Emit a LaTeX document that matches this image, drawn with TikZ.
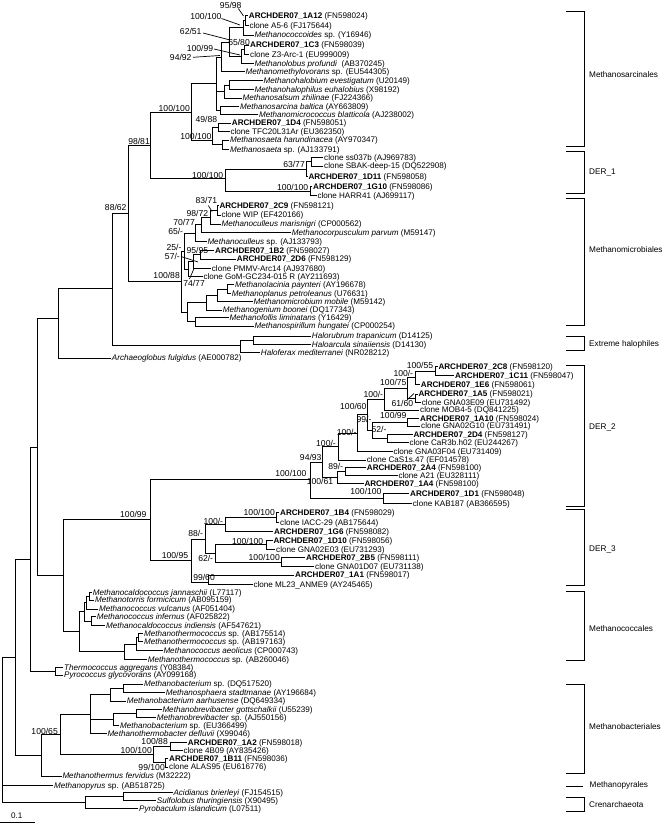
\documentclass[tikz,border=0pt]{standalone}
\usepackage{fontspec}
\setmainfont{Liberation Sans}
\newcommand{\lffont}{\fontsize{8.1}{9}\selectfont}
\newcommand{\bsfont}{\fontsize{8.6}{9}\selectfont}
\newcommand{\clfont}{\fontsize{8.2}{9}\selectfont}
\newcommand{\archd}[1]{\textbf{ARCHDER07\_#1}}
\begin{document}
\begin{tikzpicture}[x=1pt,y=-1pt,
  br/.style={line width=0.9pt, line cap=rect},
  pt/.style={line width=0.7pt},
  lf/.style={anchor=west, inner sep=1pt, text height=5.8pt, text depth=0pt, font=\lffont},
  bs/.style={anchor=east, inner sep=0pt, text height=6.2pt, text depth=0pt, font=\bsfont},
  cl/.style={anchor=west, inner sep=0pt, text height=5.9pt, text depth=0pt, font=\clfont}]
\useasboundingbox[fill=white] (0,0) rectangle (666,824);

% ---------- leaves ----------
\node[lf] (L1) at (247.7,15.7) {\archd{1A12} (FN598024)};
\node[lf] (L2) at (248.3,25.7) {clone A5-6 (FJ175644)};
\node[lf] (L3) at (253.3,35) {\textit{Methanococcoides} sp. (Y16946)};
\node[lf] (L4) at (249,45) {\archd{1C3} (FN598039)};
\node[lf] (L5) at (249,54.3) {clone Z3-Arc-1 (EU999009)};
\node[lf] (L6) at (253.3,63.3) {\textit{Methanolobus profundi}\ \ (AB370245)};
\node[lf] (L7) at (244.3,71.7) {\textit{Methanomethylovorans} sp. (EU544305)};
\node[lf] (L8) at (262.3,80.7) {\textit{Methanohalobium evestigatum} (U20149)};
\node[lf] (L9) at (253.3,89.3) {\textit{Methanohalophilus euhalobius} (X98192)};
\node[lf] (L10) at (241.3,98) {\textit{Methanosalsum zhilinae} (FJ224366)};
\node[lf] (L11) at (239,106.7) {\textit{Methanosarcina baltica} (AY663809)};
\node[lf] (L12) at (258,114.3) {\textit{Methanomicrococcus blatticola} (AJ238002)};
\node[lf] (L13) at (230.7,123) {\archd{1D4} (FN598051)};
\node[lf] (L14) at (229.3,131.5) {clone TFC20L31Ar (EU362350)};
\node[lf] (L15) at (229,140) {\textit{Methanosaeta harundinacea} (AY970347)};
\node[lf] (L16) at (229,149.3) {\textit{Methanosaeta} sp. (AJ133791)};
\node[lf] (L17) at (323,157.7) {clone ss037b (AJ969783)};
\node[lf] (L18) at (323,166) {clone SBAK-deep-15 (DQ522908)};
\node[lf] (L19) at (307.3,176.7) {\archd{1D11} (FN598058)};
\node[lf] (L20) at (312,186.3) {\archd{1G10} (FN598086)};
\node[lf] (L21) at (316.3,195.7) {clone HARR41 (AJ699117)};
\node[lf] (L22) at (218.3,205.3) {\archd{2C9} (FN598121)};
\node[lf] (L23) at (220.3,215) {clone WIP (EF420166)};
\node[lf] (L24) at (220.3,224) {\textit{Methanoculleus marisnigri} (CP000562)};
\node[lf] (L25) at (290.7,232.7) {\textit{Methanocorpusculum parvum} (M59147)};
\node[lf] (L26) at (206.3,241.3) {\textit{Methanoculleus} sp. (AJ133793)};
\node[lf] (L27) at (214,250.5) {\archd{1B2} (FN598027)};
\node[lf] (L28) at (235.7,259) {\archd{2D6} (FN598129)};
\node[lf] (L29) at (210.7,268.3) {clone PMMV-Arc14 (AJ937680)};
\node[lf] (L30) at (202.3,276.7) {clone GoM-GC234-015 R (AY211693)};
\node[lf] (L31) at (234,284.7) {\textit{Methanolacinia paynteri} (AY196678)};
\node[lf] (L32) at (230.7,293.3) {\textit{Methanoplanus petroleanus} (U76631)};
\node[lf] (L33) at (252.3,301.7) {\textit{Methanomicrobium mobile} (M59142)};
\node[lf] (L34) at (221.7,310) {\textit{Methanogenium boonei} (DQ177343)};
\node[lf] (L35) at (228.3,317.7) {\textit{Methanofollis liminatans} (Y16429)};
\node[lf] (L36) at (253.3,326) {\textit{Methanospirillum hungatei} (CP000254)};
\node[lf] (L37) at (310.7,336) {\textit{Halorubrum trapanicum} (D14125)};
\node[lf] (L38) at (310.7,344.7) {\textit{Haloarcula sinaiiensis} (D14130)};
\node[lf] (L39) at (259.7,352.3) {\textit{Haloferax mediterranei} (NR028212)};
\node[lf] (L40) at (110.7,358) {\textit{Archaeoglobus fulgidus} (AE000782)};
\node[lf] (L41) at (437.3,366.7) {\archd{2C8} (FN598120)};
\node[lf] (L42) at (454,375.3) {\archd{1C11} (FN598047)};
\node[lf] (L43) at (419.7,384.3) {\archd{1E6} (FN598061)};
\node[lf] (L44) at (417.3,394) {\archd{1A5} (FN598021)};
\node[lf] (L45) at (420.7,402.3) {clone GNA03E09 (EU731492)};
\node[lf] (L46) at (419,410) {clone MOB4-5 (DQ841225)};
\node[lf] (L47) at (419,418.3) {\archd{1A10} (FN598024)};
\node[lf] (L48) at (420,426) {clone GNA02G10 (EU731491)};
\node[lf] (L49) at (412.3,434.3) {\archd{2D4} (FN598127)};
\node[lf] (L50) at (408.3,442.3) {clone CaR3b.h02 (EU244267)};
\node[lf] (L51) at (392.3,451.7) {clone GNA03F04 (EU731409)};
\node[lf] (L52) at (365.7,460) {clone CaS1s.47 (EF014578)};
\node[lf] (L53) at (365.7,467.3) {\archd{2A4} (FN598100)};
\node[lf] (L54) at (397.3,475.7) {clone A21 (EU328111)};
\node[lf] (L55) at (363.3,483.7) {\archd{1A4} (FN598100)};
\node[lf] (L56) at (409,493.7) {\archd{1D1} (FN598048)};
\node[lf] (L57) at (411.7,503.3) {clone KAB187 (AB366595)};
\node[lf] (L58) at (279,512.7) {\archd{1B4} (FN598029)};
\node[lf] (L59) at (279,522.3) {clone IACC-29 (AB175644)};
\node[lf] (L60) at (273,531.7) {\archd{1G6} (FN598082)};
\node[lf] (L61) at (272.3,540.3) {\archd{1D10} (FN598056)};
\node[lf] (L62) at (275,549.3) {clone GNA02E03 (EU731293)};
\node[lf] (L63) at (305,557.7) {\archd{2B5} (FN598111)};
\node[lf] (L64) at (314,566.7) {clone GNA01D07 (EU731138)};
\node[lf] (L65) at (294,575) {\archd{1A1} (FN598017)};
\node[lf] (L66) at (252.3,584.3) {clone ML23\_ANME9 (AY245465)};
\node[lf] (L67) at (91.7,592.3) {\textit{Methanocaldococcus jannaschii} (L77117)};
\node[lf] (L68) at (94,600) {\textit{Methanotorris formicicum} (AB095159)};
\node[lf] (L69) at (98,609) {\textit{Methanococcus vulcanus} (AF051404)};
\node[lf] (L70) at (95.7,616.7) {\textit{Methanococcus infernus} (AF025822)};
\node[lf] (L71) at (105,625.7) {\textit{Methanocaldococcus indiensis} (AF547621)};
\node[lf] (L72) at (143,633.3) {\textit{Methanothermococcus} sp. (AB175514)};
\node[lf] (L73) at (143,641.7) {\textit{Methanothermococcus} sp. (AB197163)};
\node[lf] (L74) at (162.3,650.7) {\textit{Methanococcus aeolicus} (CP000743)};
\node[lf] (L75) at (146.7,659.3) {\textit{Methanothermococcus} sp. (AB260046)};
\node[lf] (L76) at (63,667.3) {\textit{Thermococcus aggregans} (Y08384)};
\node[lf] (L77) at (63,675) {\textit{Pyrococcus glycovorans} (AY099168)};
\node[lf] (L78) at (143,684) {\textit{Methanobacterium} sp. (DQ517520)};
\node[lf] (L79) at (164.7,692.7) {\textit{Methanosphaera stadtmanae} (AY196684)};
\node[lf] (L80) at (125.7,701) {\textit{Methanobacterium aarhusense} (DQ649334)};
\node[lf] (L81) at (161.3,709.3) {\textit{Methanobrevibacter gottschalkii} (U55239)};
\node[lf] (L82) at (155.7,717.3) {\textit{Methanobrevibacter} sp. (AJ550156)};
\node[lf] (L83) at (119,725.3) {\textit{Methanobacterium} sp. (EU366499)};
\node[lf] (L84) at (106.3,733.3) {\textit{Methanothermobacter defluvii} (X99046)};
\node[lf] (L85) at (186.7,742.3) {\archd{1A2} (FN598018)};
\node[lf] (L86) at (182.3,750.7) {clone 4B09 (AY835426)};
\node[lf] (L87) at (168,758.7) {\archd{1B11} (FN598036)};
\node[lf] (L88) at (168,767) {clone ALAS95 (EU616776)};
\node[lf] (L89) at (61.3,776) {\textit{Methanothermus fervidus} (M32222)};
\node[lf] (L90) at (53,785.3) {\textit{Methanopyrus} sp. (AB518725)};
\node[lf] (L91) at (172.3,792.3) {\textit{Acidianus brierleyi} (FJ154515)};
\node[lf] (L92) at (155.7,800.7) {\textit{Sulfolobus thuringiensis} (X90495)};
\node[lf] (L93) at (138,808.7) {\textit{Pyrobaculum islandicum} (L07511)};

% ---------- internal nodes ----------
\coordinate (n1) at (245,20.7);   \coordinate (n2) at (243,27.9);
\coordinate (n3) at (244,49.7);   \coordinate (n4) at (241,56.5);
\coordinate (n5) at (229,42.2);   \coordinate (n6) at (221.7,57);
\coordinate (nA) at (229.3,85);   \coordinate (nB) at (224,91.5);
\coordinate (nC) at (220,110.5);  \coordinate (G1) at (216.7,83.8);
\coordinate (g21) at (218.3,127.3); \coordinate (g22) at (222.7,144.7);
\coordinate (G2) at (212.7,140);  \coordinate (G) at (191,112.3);
\coordinate (h1a) at (311.7,161.8); \coordinate (h1) at (306.7,169.3);
\coordinate (h2) at (310.7,191);  \coordinate (H) at (225,178.8);
\coordinate (F) at (150.7,145.5);
\coordinate (m1) at (217.3,210.2); \coordinate (m2) at (210.3,217.1);
\coordinate (m3) at (201.7,224.9); \coordinate (m4) at (195,233.1);
\coordinate (m5) at (200,254.8);  \coordinate (m6) at (193,261.5);
\coordinate (m8) at (188,269.1);  \coordinate (m14) at (184,251.1);
\coordinate (m9) at (227.3,289);  \coordinate (m10) at (217.3,295.3);
\coordinate (m11) at (206,302.7); \coordinate (m12) at (195,321.9);
\coordinate (m13) at (187.3,312.3); \coordinate (M) at (181.7,281);
\coordinate (E3) at (128.3,213.3);
\coordinate (ha) at (253.3,340.3); \coordinate (hb) at (240.7,345.5);
\coordinate (E2) at (112.7,288.3); \coordinate (E1) at (58.3,318.3);
\coordinate (a1) at (435,371);    \coordinate (a2) at (415,377.7);
\coordinate (a3) at (415.7,398.2); \coordinate (a5) at (407,388);
\coordinate (a6) at (384,399);    \coordinate (a7) at (407,422.2);
\coordinate (a9) at (387,438.3);  \coordinate (a10) at (372,430.2);
\coordinate (a8) at (367,414.6);  \coordinate (P2) at (357,433.2);
\coordinate (P1) at (338.3,446.6); \coordinate (d1) at (345.7,471.5);
\coordinate (d2) at (337.3,477.6); \coordinate (P) at (322.7,462.1);
\coordinate (q1) at (383.3,498.5); \coordinate (Q) at (310,479.5);
\coordinate (t1) at (276.7,517.5); \coordinate (t2) at (225,524.6);
\coordinate (t3) at (266.7,544.8); \coordinate (t4) at (281.7,562.2);
\coordinate (t5) at (215,553.5);  \coordinate (t6) at (205,539);
\coordinate (t7) at (208.3,582.3); \coordinate (T) at (191.7,560.3);
\coordinate (X) at (150,519.3);
\coordinate (c1) at (89.3,596.2); \coordinate (c2) at (86.7,602.6);
\coordinate (c3) at (91.7,621.2); \coordinate (c4) at (84,611.9);
\coordinate (c5) at (138.7,637.5); \coordinate (c6) at (136.7,644.1);
\coordinate (c7) at (124.3,651.7); \coordinate (c8) at (79.7,631.8);
\coordinate (D) at (63.3,575.5);  \coordinate (C) at (37.3,447);
\coordinate (th) at (55,671.2);   \coordinate (B) at (30.7,559);
\coordinate (b1) at (123,688.3);  \coordinate (b2) at (110,694.7);
\coordinate (b3) at (136.7,713.3); \coordinate (b4) at (113.3,719.3);
\coordinate (b6) at (90.7,714);   \coordinate (b7) at (170,746.5);
\coordinate (b8) at (165,762.8);  \coordinate (b9) at (153.3,754.7);
\coordinate (b10) at (60,734.5);  \coordinate (b11) at (41.7,755.2);
\coordinate (A) at (15,657);
\coordinate (cr1) at (123.3,796.5); \coordinate (cr2) at (85,802.6);
\coordinate (R) at (2,729.8);

% ---------- branches ----------
\foreach \c/\p in {L1.west/n1, L2.west/n1, n1/n2, L3.west/n2, L4.west/n3, L5.west/n3,
  n3/n4, L6.west/n4, n2/n5, n4/n5, n5/n6, L7.west/n6, L8.west/nA, L9.west/nA,
  nA/nB, L10.west/nB, L11.west/nC, L12.west/nC, n6/G1, nB/G1, nC/G1,
  L13.west/g21, L14.west/g21, L15.west/g22, L16.west/g22, g21/G2, g22/G2,
  G1/G, G2/G, L17.west/h1a, L18.west/h1a, h1a/h1, L19.west/h1, L20.west/h2,
  L21.west/h2, h1/H, h2/H, G/F, H/F,
  L22.west/m1, L23.west/m1, m1/m2, L24.west/m2, m2/m3, L25.west/m3, m3/m4,
  L26.west/m4, L27.west/m5, L28.west/m5, m5/m6, L29.west/m6, m6/m8, L30.west/m8,
  m4/m14, m8/m14, L31.west/m9, L32.west/m9, m9/m10, L33.west/m10, m10/m11,
  L34.west/m11, L35.west/m12, L36.west/m12, m11/m13, m12/m13, m14/M, m13/M,
  F/E3, M/E3, L37.west/ha, L38.west/ha, ha/hb, L39.west/hb, E3/E2, hb/E2,
  E2/E1, L40.west/E1}
  \draw[br] (\c) -| (\p);
\foreach \c/\p in {L41.west/a1, L42.west/a1, a1/a2, L43.west/a2, L44.west/a3,
  L45.west/a3, a2/a5, a3/a5, a5/a6, L46.west/a6, L47.west/a7, L48.west/a7,
  L49.west/a9, L50.west/a9, a7/a10, a9/a10, a6/a8, a10/a8, a8/P2, L51.west/P2,
  P2/P1, L52.west/P1, L53.west/d1, L54.west/d1, d1/d2, L55.west/d2, P1/P, d2/P,
  L56.west/q1, L57.west/q1, P/Q, q1/Q,
  L58.west/t1, L59.west/t1, t1/t2, L60.west/t2, L61.west/t3, L62.west/t3,
  L63.west/t4, L64.west/t4, t3/t5, t4/t5, t2/t6, t5/t6, L65.west/t7, L66.west/t7,
  t6/T, t7/T, Q/X, T/X,
  L67.west/c1, L68.west/c1, c1/c2, L69.west/c2, L70.west/c3, L71.west/c3,
  c2/c4, c3/c4, L72.west/c5, L73.west/c5, c5/c6, L74.west/c6, c6/c7,
  L75.west/c7, c4/c8, c7/c8, X/D, c8/D, E1/C, D/C, L76.west/th, L77.west/th,
  C/B, th/B,
  L78.west/b1, L79.west/b1, b1/b2, L80.west/b2, L81.west/b3, L82.west/b3,
  b3/b4, L83.west/b4, b2/b6, b4/b6, L84.west/b6, L85.west/b7, L86.west/b7,
  L87.west/b8, L88.west/b8, b7/b9, b8/b9, b6/b10, b9/b10, b10/b11, L89.west/b11,
  B/A, b11/A, L91.west/cr1, L92.west/cr1, cr1/cr2, L93.west/cr2,
  A/R, L90.west/R, cr2/R}
  \draw[br] (\c) -| (\p);

% ---------- support values ----------
\node[bs] (s1) at (241.7,5) {95/98};
\node[bs] (s2) at (221.7,16.7) {100/100};
\node[bs] (s3) at (201.7,31.7) {62/51};
\node[bs] (s4) at (250,42.7) {65/80};
\node[bs] (s5) at (213.3,48.3) {100/99};
\node[bs] (s6) at (191.7,57.3) {94/92};
\node[bs] (s7) at (190,108.3) {100/100};
\node[bs] (s8) at (217.3,119) {49/88};
\node[bs] (s9) at (211.7,136.7) {100/100};
\node[bs] (s10) at (150,141.7) {98/81};
\node[bs] (s11) at (305,164.3) {63/77};
\node[bs] (s12) at (223.3,175) {100/100};
\node[bs] (s13) at (308.3,187.7) {100/100};
\node[bs] (s14) at (217.3,200) {83/71};
\node[bs] (s15) at (126.7,207.3) {88/62};
\node[bs] (s16) at (208.3,213.3) {98/72};
\node[bs] (s17) at (195,222.3) {70/77};
\node[bs] (s18) at (183.3,231) {65/-};
\node[bs] (s19) at (181.7,247.7) {25/-};
\node[bs] (s20) at (208.3,250) {95/95};
\node[bs] (s21) at (180,256) {57/-};
\node[bs] (s22) at (180,275.7) {100/88};
\node[bs] (s23) at (205,283.3) {74/77};
\node[bs] (s24) at (433.3,365) {100/55};
\node[bs] (s25) at (413.3,373.3) {100/-};
\node[bs] (s26) at (406.7,382.3) {100/75};
\node[bs] (s27) at (383.3,394) {100/-};
\node[bs] (s28) at (413.3,403.3) {61/60};
\node[bs] (s29) at (366.7,406) {100/60};
\node[bs] (s30) at (406.7,415) {100/99};
\node[bs] (s31) at (371.7,419) {99/-};
\node[bs] (s32) at (386.7,429) {52/-};
\node[bs] (s33) at (356.7,432.3) {100/-};
\node[bs] (s34) at (336,443.3) {100/-};
\node[bs] (s35) at (321.7,457.7) {94/93};
\node[bs] (s36) at (343.3,466.7) {89/-};
\node[bs] (s37) at (306.7,473.3) {100/100};
\node[bs] (s38) at (333.3,481.7) {100/61};
\node[bs] (s39) at (381.7,491.7) {100/100};
\node[bs] (s40) at (275,512.7) {100/100};
\node[bs] (s41) at (146.7,514) {100/99};
\node[bs] (s42) at (223.3,521.7) {100/-};
\node[bs] (s43) at (203.3,533) {88/-};
\node[bs] (s44) at (263.3,541) {100/100};
\node[bs] (s45) at (188.3,555) {100/95};
\node[bs] (s46) at (280,557.7) {100/100};
\node[bs] (s47) at (213.3,558.5) {62/-};
\node[bs] (s48) at (215,577.3) {99/60};
\node[bs] (s49) at (58,731.7) {100/65};
\node[bs] (s50) at (168,741) {100/88};
\node[bs] (s51) at (152,750) {100/100};
\node[bs] (s52) at (165,767) {99/100};

% pointer lines from support values to their nodes
\coordinate (k1a) at (238.3,8.5);  \coordinate (k1b) at (243.5,16);
\coordinate (k2a) at (221.5,18.5); \coordinate (k2b) at (240,25);
\coordinate (k3a) at (203,33);     \coordinate (k3b) at (230,40);
\coordinate (k5a) at (214,49);     \coordinate (k5b) at (240,55);
\coordinate (k6a) at (193,57.3);   \coordinate (k6b) at (220,55.5);
\coordinate (k14a) at (208.3,205.5); \coordinate (k14b) at (212,211.5);
\coordinate (k21a) at (181,256.5); \coordinate (k21b) at (198,262);
\coordinate (k23a) at (189.5,279); \coordinate (k23b) at (194,268.5);
\coordinate (k28a) at (407,400);   \coordinate (k28b) at (414,393.5);
\foreach \u/\v in {k1a/k1b, k2a/k2b, k3a/k3b, k5a/k5b, k6a/k6b, k14a/k14b,
  k21a/k21b, k23a/k23b, k28a/k28b}
  \draw[pt] (\u) -- (\v);

% ---------- clade brackets ----------
\foreach \ya/\yb/\yl/\nm/\tx in {
  11.7/146.7/75/q1c/Methanosarcinales,
  151.7/193.3/171.7/q2c/DER\_1,
  198.3/325/250/q3c/Methanomicrobiales,
  336.7/350/343.3/q4c/Extreme halophiles,
  365/506.7/426.7/q5c/DER\_2,
  509.3/585.7/548.3/q6c/DER\_3,
  591.7/660.7/628.3/q7c/Methanococcales,
  684/773.3/726.7/q8c/Methanobacteriales,
  797.7/811.7/805/q9c/Crenarchaeota}
{
  \draw[br, line cap=butt] (566,\ya) -- (584,\ya) -- (584,\yb) -- (566,\yb);
  \node[cl] (\nm) at (589,\yl) {\tx};
}
\draw[br, line cap=butt] (566,786.7) -- (583.3,786.7);
\node[cl] (q10c) at (589.5,785) {Methanopyrales};

% ---------- scale bar ----------
\coordinate (sb1) at (0,822.5); \coordinate (sb2) at (35,822.5);
\draw[br, line cap=butt] (sb1) -- (sb2);
\node[font=\lffont, inner sep=0pt] (sbl) at (16.7,816) {0.1};
\end{tikzpicture}
\end{document}
